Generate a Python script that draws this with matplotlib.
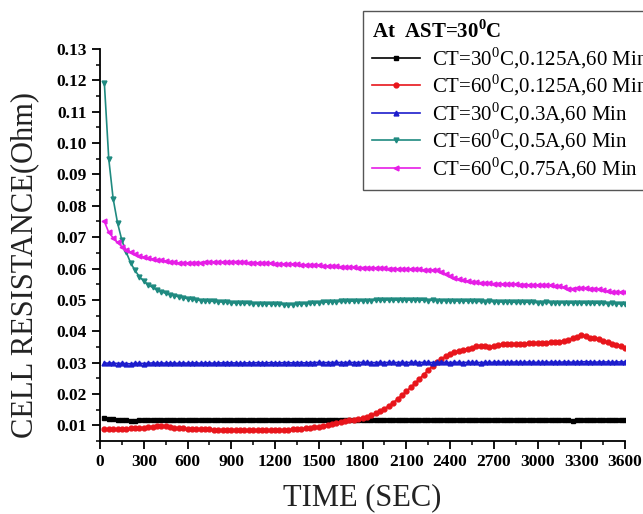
import matplotlib

matplotlib.use("Agg")
import matplotlib.pyplot as plt
import numpy as np
from matplotlib.ticker import FormatStrFormatter, MultipleLocator

plt.rcParams["font.family"] = ["Liberation Serif", "DejaVu Serif"]
plt.rcParams["mathtext.fontset"] = "custom"
plt.rcParams["mathtext.rm"] = "Liberation Serif"
plt.rcParams["mathtext.bf"] = "Liberation Serif:bold"

# sampling every 30 s
time_s = np.arange(30, 3601, 30)

ct30_0125 = [
    .0122, .0120, .0119, .0118, .0117, .0116, .0115, .0115, .0116, .0116,
    .0116, .0116, .0117, .0117, .0118, .0118, .0117, .0116, .0116, .0116,
    .0116, .0116, .0117, .0116, .0116, .0116, .0117, .0117, .0116, .0116,
    .0117, .0116, .0116, .0117, .0117, .0116, .0116, .0117, .0116, .0116,
    .0117, .0118, .0117, .0117, .0116, .0116, .0117, .0116, .0116, .0117,
    .0116, .0116, .0117, .0116, .0116, .0117, .0117, .0116, .0116, .0116,
    .0117, .0116, .0116, .0117, .0116, .0117, .0117, .0116, .0116, .0117,
    .0116, .0117, .0116, .0116, .0117, .0117, .0116, .0117, .0116, .0116,
    .0117, .0116, .0117, .0116, .0116, .0117, .0116, .0117, .0117, .0116,
    .0117, .0116, .0117, .0116, .0116, .0117, .0116, .0116, .0117, .0116,
    .0117, .0116, .0117, .0116, .0117, .0117, .0116, .0115, .0116, .0117,
    .0116, .0116, .0117, .0116, .0117, .0117, .0116, .0117, .0117, .0117,
]

ct60_0125 = [
    .0088, .0087, .0087, .0087, .0088, .0089, .0090, .0090, .0091, .0093,
    .0094, .0096, .0097, .0098, .0097, .0095, .0093, .0091, .0090, .0089,
    .0088, .0088, .0087, .0087, .0087, .0086, .0086, .0086, .0086, .0086,
    .0086, .0085, .0085, .0086, .0085, .0086, .0086, .0085, .0085, .0085,
    .0085, .0085, .0086, .0087, .0088, .0089, .0090, .0092, .0094, .0096,
    .0098, .0101, .0104, .0107, .0110, .0113, .0116, .0118, .0120, .0123,
    .0127, .0132, .0138, .0145, .0153, .0162, .0172, .0184, .0196, .0208,
    .0221, .0234, .0248, .0262, .0276, .0289, .0301, .0312, .0320, .0327,
    .0333, .0337, .0341, .0344, .0348, .0352, .0354, .0352, .0350, .0352,
    .0355, .0358, .0360, .0359, .0358, .0359, .0360, .0361, .0362, .0362,
    .0363, .0364, .0365, .0366, .0367, .0369, .0373, .0378, .0383, .0387,
    .0385, .0380, .0377, .0375, .0370, .0365, .0360, .0356, .0352, .0348,
]

ct30_03 = [
    .0299, .0298, .0299, .0297, .0298, .0297, .0296, .0298, .0298, .0297,
    .0298, .0299, .0298, .0299, .0298, .0299, .0298, .0298, .0299, .0298,
    .0299, .0299, .0298, .0299, .0299, .0298, .0299, .0299, .0300, .0299,
    .0299, .0298, .0299, .0299, .0299, .0300, .0299, .0299, .0300, .0299,
    .0299, .0300, .0300, .0299, .0300, .0300, .0299, .0300, .0300, .0301,
    .0300, .0300, .0300, .0301, .0300, .0300, .0301, .0300, .0300, .0301,
    .0301, .0300, .0300, .0301, .0300, .0301, .0301, .0300, .0301, .0300,
    .0301, .0301, .0300, .0301, .0301, .0300, .0301, .0301, .0301, .0300,
    .0301, .0301, .0300, .0301, .0301, .0301, .0300, .0301, .0301, .0301,
    .0302, .0301, .0301, .0301, .0302, .0301, .0301, .0302, .0301, .0301,
    .0301, .0302, .0301, .0302, .0301, .0302, .0302, .0301, .0302, .0302,
    .0303, .0302, .0301, .0302, .0302, .0302, .0301, .0302, .0302, .0302,
]

ct60_05 = [
    .1190, .0950, .0823, .0746, .0690, .0652, .0618, .0594, .0574, .0560,
    .0548, .0540, .0532, .0526, .0521, .0517, .0513, .0510, .0507, .0504,
    .0502, .0500, .0498, .0497, .0496, .0495, .0494, .0493, .0492, .0491,
    .0490, .0490, .0489, .0489, .0488, .0488, .0488, .0487, .0487, .0486,
    .0486, .0485, .0484, .0485, .0486, .0487, .0488, .0489, .0490, .0491,
    .0492, .0493, .0494, .0494, .0495, .0495, .0496, .0496, .0497, .0497,
    .0498, .0498, .0499, .0499, .0499, .0500, .0500, .0499, .0500, .0500,
    .0499, .0500, .0499, .0499, .0498, .0499, .0498, .0498, .0497, .0497,
    .0497, .0496, .0497, .0496, .0496, .0495, .0495, .0494, .0495, .0494,
    .0494, .0493, .0493, .0493, .0492, .0492, .0493, .0492, .0492, .0491,
    .0491, .0492, .0491, .0491, .0490, .0491, .0490, .0490, .0491, .0490,
    .0490, .0489, .0490, .0489, .0489, .0488, .0489, .0488, .0487, .0486,
]

ct60_075 = [
    .0750, .0715, .0698, .0683, .0670, .0660, .0652, .0645, .0640, .0636,
    .0633, .0630, .0628, .0626, .0624, .0622, .0620, .0618, .0617, .0617,
    .0618, .0619, .0619, .0620, .0620, .0620, .0621, .0620, .0621, .0621,
    .0622, .0621, .0620, .0619, .0619, .0618, .0618, .0617, .0617, .0616,
    .0615, .0615, .0614, .0614, .0613, .0612, .0612, .0611, .0611, .0610,
    .0609, .0608, .0607, .0607, .0606, .0605, .0605, .0604, .0603, .0603,
    .0603, .0602, .0602, .0601, .0601, .0600, .0600, .0599, .0599, .0598,
    .0598, .0597, .0597, .0596, .0596, .0595, .0594, .0590, .0583, .0576,
    .0570, .0565, .0562, .0560, .0558, .0556, .0555, .0554, .0553, .0552,
    .0552, .0551, .0551, .0550, .0550, .0549, .0549, .0548, .0548, .0547,
    .0547, .0546, .0546, .0545, .0544, .0540, .0536, .0536, .0537, .0537,
    .0537, .0536, .0536, .0534, .0530, .0527, .0525, .0525, .0524, .0524,
]

labels = [
    r"CT=30$^{\mathrm{0}}$C,0.125A,60 Min",
    r"CT=60$^{\mathrm{0}}$C,0.125A,60 Min",
    r"CT=30$^{\mathrm{0}}$C,0.3A,60 Min",
    r"CT=60$^{\mathrm{0}}$C,0.5A,60 Min",
    r"CT=60$^{\mathrm{0}}$C,0.75A,60 Min",
]
series = [ct30_0125, ct60_0125, ct30_03, ct60_05, ct60_075]
colors = ["#000000", "#e8151b", "#1c1ccc", "#1f8a80", "#e61ee6"]
markers = ["s", "o", "^", "v", "<"]

fig = plt.figure(figsize=(6.43, 5.14), dpi=100)
ax = fig.add_axes([100 / 643, 73 / 514, 525 / 643, 392 / 514])

for values, label, color, marker in zip(series, labels, colors, markers):
    ax.plot(
        time_s,
        values,
        color=color,
        marker=marker,
        markersize=3.5,
        linewidth=1.2,
        label=label,
    )

ax.set_xlim(0, 3600)
ax.set_ylim(0.005, 0.13)
ax.xaxis.set_major_locator(MultipleLocator(300))
ax.xaxis.set_minor_locator(MultipleLocator(150))
ax.yaxis.set_major_locator(MultipleLocator(0.01))
ax.yaxis.set_minor_locator(MultipleLocator(0.005))
ax.yaxis.set_major_formatter(FormatStrFormatter("%.2f"))

ax.spines["top"].set_visible(False)
ax.spines["right"].set_visible(False)
for side in ("left", "bottom"):
    ax.spines[side].set_linewidth(1.3)
ax.tick_params(which="major", direction="out", length=6, width=1.3, labelsize=12.5)
ax.tick_params(which="minor", direction="out", length=3, width=1.1)
for lbl in ax.get_xticklabels() + ax.get_yticklabels():
    lbl.set_fontweight("bold")

fig.text(25 / 643, 1 - 265 / 514, "CELL RESISTANCE(Ohm)", rotation=90,
         ha="center", va="center", fontsize=22, color="#222222")
fig.text(362 / 643, 1 - 498 / 514, "TIME (SEC)", ha="center", va="center",
         fontsize=22, color="#222222")

# legend runs off the right edge, as in the source figure
leg = ax.legend(
    loc="upper left",
    bbox_to_anchor=(363 / 643, 1 - 11 / 514),
    bbox_transform=fig.transFigure,
    borderaxespad=0,
    title=r"At  AST=30$^{\mathbf{0}}$C",
    title_fontproperties={"weight": "bold", "size": 15},
    alignment="left",
    fontsize=15,
    handlelength=2.3,
    handletextpad=0.55,
    labelspacing=0.1,
    borderpad=0.45,
    fancybox=False,
    framealpha=1,
    edgecolor="#555555",
)
leg.get_frame().set_linewidth(1.0)

fig.savefig("out.png", dpi=100)
